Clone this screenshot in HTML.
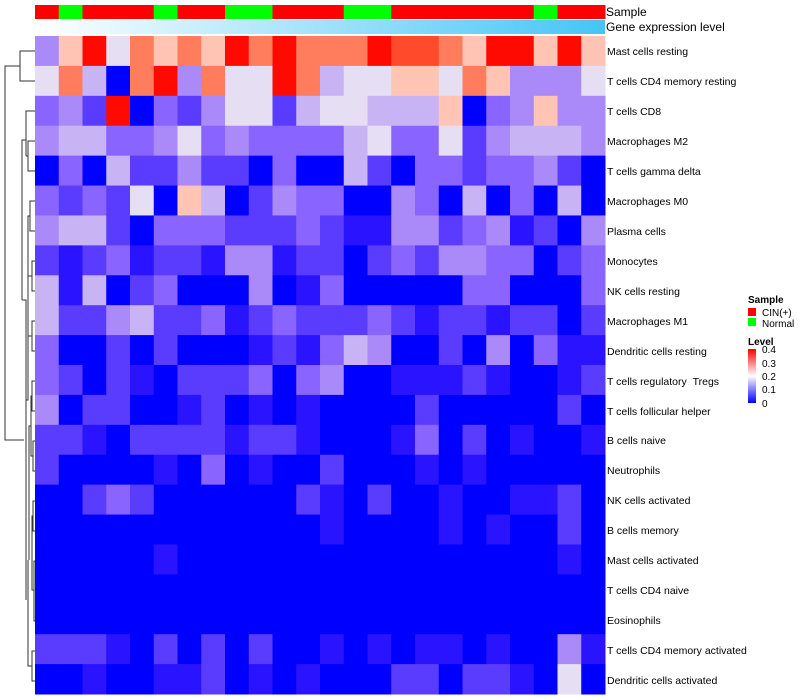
<!DOCTYPE html>
<html><head><meta charset="utf-8"><style>
body{margin:0;background:#fff;}
svg{display:block;font-family:"Liberation Sans",sans-serif;}
</style></head><body>
<svg id="s" width="800" height="700" viewBox="0 0 800 700" xmlns="http://www.w3.org/2000/svg">
<defs>
<linearGradient id="gexp" x1="0" x2="1" y1="0" y2="0"><stop offset="0" stop-color="#ffffff"/><stop offset="1" stop-color="#45c5f5"/></linearGradient>
<linearGradient id="lev" x1="0" x2="0" y1="0" y2="1"><stop offset="0" stop-color="#ff0000"/><stop offset="0.5" stop-color="#ffffff"/><stop offset="1" stop-color="#0000ff"/></linearGradient>
</defs>
<g id="cells"></g>
<rect x="35" y="20" width="570" height="14" fill="url(#gexp)"/>
<g fill="#000" font-size="12">
<text x="606" y="16">Sample</text>
<text x="606" y="31">Gene expression level</text>
</g>
<g fill="#000" font-size="10.5" id="labels">
<text x="607" y="55">Mast cells resting</text>
<text x="607" y="85">T cells CD4 memory resting</text>
<text x="607" y="115">T cells CD8</text>
<text x="607" y="145">Macrophages M2</text>
<text x="607" y="175">T cells gamma delta</text>
<text x="607" y="205">Macrophages M0</text>
<text x="607" y="235">Plasma cells</text>
<text x="607" y="265">Monocytes</text>
<text x="607" y="295">NK cells resting</text>
<text x="607" y="325">Macrophages M1</text>
<text x="607" y="355">Dendritic cells resting</text>
<text x="607" y="385">T cells regulatory &#160;Tregs</text>
<text x="607" y="415">T cells follicular helper</text>
<text x="607" y="444">B cells naive</text>
<text x="607" y="474">Neutrophils</text>
<text x="607" y="504">NK cells activated</text>
<text x="607" y="534">B cells memory</text>
<text x="607" y="564">Mast cells activated</text>
<text x="607" y="594">T cells CD4 naive</text>
<text x="607" y="624">Eosinophils</text>
<text x="607" y="654">T cells CD4 memory activated</text>
<text x="607" y="684">Dendritic cells activated</text>
</g>
<g stroke="#333" fill="none" stroke-width="1">
<path d="M35 51 H20 V81 H35"/>
<path d="M35 111 H26 V126 M35 141 H28 V171 H35 M28 156 H26 M26 118 V156"/>
<path d="M35 201 H30 V231 H35"/>
<path d="M35 261 H32 V291 H35"/>
<path d="M30 216 H28 V276 H32"/>
<path d="M35 321 H32 V351 H35 M32 336 H28"/>
<path d="M26 140 H22 V300 M28 246 V400 H26 M22 300 H26 V600"/>
<path d="M35 381 H32 V411 H35 M35 441 H33 V471 H35 M32 396 H31 V456 H33"/>
<path d="M31 426 H29 V560 M35 501 H33 V531 H35 M35 561 H34 V621 H35 M33 516 H32 V590 H34"/>
<path d="M35 651 H32 V681 H35 M32 666 H28 V560"/>
<path d="M20 66 H5 V440 H24"/>
</g>
<g font-size="10">
<text x="748" y="303" font-weight="bold">Sample</text>
<rect x="748" y="308" width="8" height="8" fill="#ff0000"/>
<text x="762" y="316">CIN(+)</text>
<rect x="748" y="318" width="8" height="8" fill="#00ff00"/>
<text x="762" y="327">Normal</text>
<text x="748" y="345" font-weight="bold">Level</text>
<rect x="748" y="349" width="8" height="54" fill="url(#lev)"/>
<text x="762" y="353">0.4</text>
<text x="762" y="367">0.3</text>
<text x="762" y="380">0.2</text>
<text x="762" y="393">0.1</text>
<text x="762" y="407">0</text>
</g>
</svg>
<script>
var P={'0':'#0000ff','1':'#2a14ff','2':'#5a3cff','3':'#8a64ff','4':'#a98af8','5':'#c8b4f4','6':'#e6def2','7':'#ffc4b4','8':'#ff7c5c','a':'#ff4a2c','9':'#ff0a00'};
var D=[
"479687879898889aa8799797",
"685089486698566776874446",
"342903246625665557034744",
"455334634333356336245554",
"030522422030052033233420",
"323260750243300430503050",
"455203332223211442341204",
"212312214412202324433023",
"515023000401300000330003",
"522452231232223212212202",
"300202000121354002040311",
"320210222303400111210012",
"402200120101000020000020",
"221022221221000130201001",
"200001030100200010100000",
"002320000002102001001120",
"000000000000100001010020",
"000001000000000000000010",
"000000000000000000000000",
"000000000000000000000000",
"222102020200101011010041",
"001001120101000220221060"];
var S="RGRRRGRRGGRRRGGRRRRRRGRR";
var g=document.getElementById('cells'),h='',cw=570/24,rh=658/22;
for(var c=0;c<24;c++){var x=35+c*cw;h+='<rect x="'+x+'" y="5" width="'+(cw+0.5)+'" height="14" fill="'+(S[c]=='R'?'#ff0000':'#00ff00')+'"/>';
for(var r=0;r<22;r++){h+='<rect x="'+x+'" y="'+(36+r*rh)+'" width="'+(cw+0.5)+'" height="'+(rh+0.5)+'" fill="'+P[D[r][c]]+'"/>';}}
g.innerHTML=h;
</script>
</body></html>
